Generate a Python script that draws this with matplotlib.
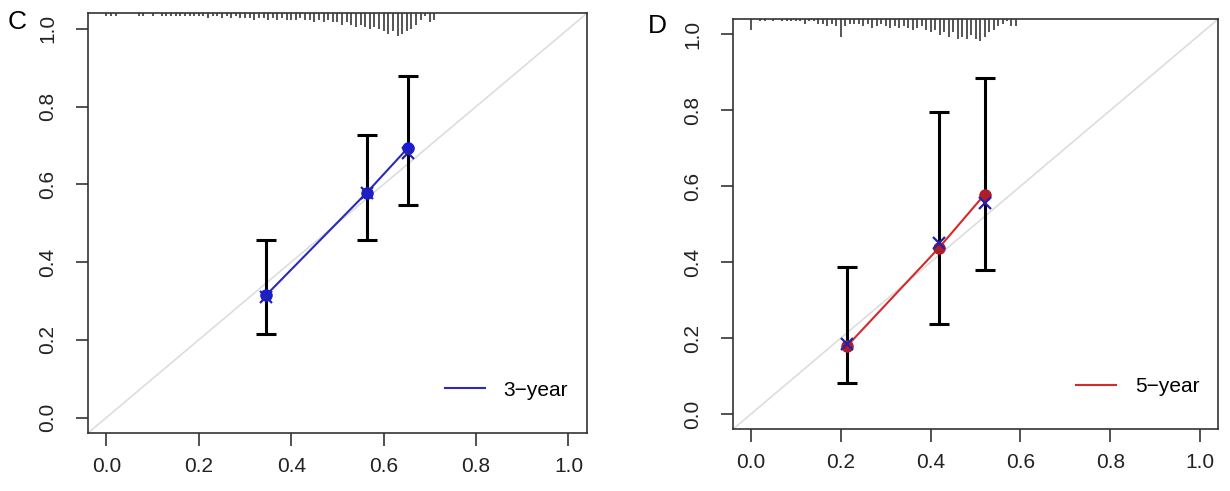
import numpy as np
import matplotlib
matplotlib.use('Agg')
import matplotlib.pyplot as plt

plt.rcParams['font.family'] = ['Liberation Sans', 'DejaVu Sans']

# panel C (3-year)
c_pred = [0.345, 0.563, 0.652]
c_obs = [0.314, 0.578, 0.693]
c_corr = [0.310, 0.577, 0.680]
c_lo = [0.216, 0.456, 0.546]
c_hi = [0.456, 0.727, 0.879]
c_rug_x = np.round(np.arange(0.0, 0.715, 0.01), 2)
c_rug_n = [1, 1, 1, 0, 0, 0, 0, 1, 1, 0,
           1, 0, 1, 1, 1, 1, 1, 1, 1, 1,
           1, 1, 2, 1, 1, 2, 1, 2, 1, 2,
           2, 2, 3, 2, 2, 3, 2, 3, 2, 3,
           3, 3, 2, 3, 3, 4, 3, 4, 3, 4,
           4, 5, 4, 5, 6, 5, 6, 7, 6, 7,
           8, 9, 8, 10, 9, 8, 7, 5, 3, 1,
           4, 3]

# panel D (5-year)
d_pred = [0.213, 0.418, 0.520]
d_obs = [0.178, 0.437, 0.578]
d_corr = [0.185, 0.450, 0.555]
d_lo = [0.081, 0.236, 0.380]
d_hi = [0.387, 0.795, 0.886]
d_rug_x = np.round(np.arange(0.0, 0.595, 0.01), 2)
d_rug_n = [5, 0, 1, 1, 0, 1, 0, 1, 1, 1,
           1, 1, 2, 1, 1, 2, 2, 3, 2, 3,
           8, 3, 2, 2, 2, 3, 2, 4, 3, 2,
           3, 4, 3, 4, 3, 4, 5, 4, 3, 5,
           6, 5, 7, 6, 8, 6, 9, 8, 9, 7,
           9, 10, 8, 6, 5, 3, 2, 1, 3, 3]

ticks = [0.0, 0.2, 0.4, 0.6, 0.8, 1.0]


def calib_panel(ax, pred, obs, corr, lo, hi, rug_x, rug_n, dot_col, line_col, label):
    ax.set_xlim(-0.04, 1.04)
    ax.set_ylim(-0.04, 1.04)
    ax.axline((0, 0), slope=1, color='#dddddd', lw=1.2, zorder=1)

    # distribution of predictions hanging from the top
    top = 1.04
    for x, n in zip(rug_x, rug_n):
        if n > 0:
            ax.plot([x, x], [top, top - 0.0058 * n], color='#555555', lw=1.4,
                    solid_capstyle='butt', zorder=2, clip_on=False)

    ax.plot(pred, obs, color=line_col, lw=1.5, zorder=3, label=label)
    ax.errorbar(pred, obs, yerr=[np.array(obs) - np.array(lo), np.array(hi) - np.array(obs)],
                fmt='none', ecolor='black', elinewidth=2.2, capsize=7, capthick=2.2, zorder=4)
    ax.plot(pred, obs, 'o', color=dot_col, ms=8, zorder=5)
    ax.plot(pred, corr, 'x', color='#2222aa', ms=9, mew=1.6, zorder=6)

    ax.set_xticks(ticks)
    ax.set_yticks(ticks)
    ax.set_xticklabels(['%.1f' % t for t in ticks])
    ax.set_yticklabels(['%.1f' % t for t in ticks], rotation=90, va='center')
    ax.tick_params(axis='x', length=9, width=1.2, pad=8, labelsize=15, color='#333333',
                   labelcolor='#222222')
    ax.tick_params(axis='y', length=9, width=1.2, pad=13, labelsize=15, color='#333333',
                   labelcolor='#222222')
    for s in ax.spines.values():
        s.set_linewidth(1.2)
        s.set_color('#333333')
    ax.legend(loc='lower right', bbox_to_anchor=(1.0, 0.035), frameon=False,
              fontsize=15, handlelength=1.9, handletextpad=0.9)


fig = plt.figure(figsize=(12.3, 4.91), dpi=100)
ax1 = fig.add_axes([0.0715, 0.118, 0.4057, 0.855])
ax2 = fig.add_axes([0.596, 0.126, 0.3943, 0.835])

calib_panel(ax1, c_pred, c_obs, c_corr, c_lo, c_hi, c_rug_x, c_rug_n,
            '#1a1adb', '#2b2bb8', '3\u2212year')
calib_panel(ax2, d_pred, d_obs, d_corr, d_lo, d_hi, d_rug_x, d_rug_n,
            '#b01c2a', '#d42a2a', '5\u2212year')

fig.text(0.006, 0.955, 'C', fontsize=19, va='center', ha='left')
fig.text(0.527, 0.948, 'D', fontsize=19, va='center', ha='left')

fig.savefig('out.png', dpi=100)
